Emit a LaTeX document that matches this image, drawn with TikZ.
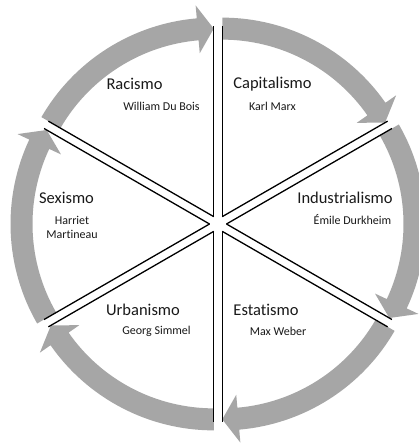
\documentclass[tikz,border=0pt]{standalone}
\usepackage{fontspec}
\setmainfont[Ligatures=NoCommon]{Carlito}
\usepackage{tikz}
\usetikzlibrary{positioning}

\definecolor{bandgray}{RGB}{166,166,166}

\begin{document}
\begin{tikzpicture}[
  x=1pt, y=1pt,
  title/.style={font=\fontsize{16.5}{19}\selectfont, text=black!90, inner sep=0pt},
  person/.style={font=\fontsize{12}{14}\selectfont, text=black!90,
                 inner sep=0pt, align=center},
  spoke/.style={line width=1.3pt},
  band/.style={fill=bandgray},
  pics/sector/.style args={#1/#2}{code={
    \fill[band] (#1:177) -- (#1:199)
      arc[start angle=#1, end angle=#2+4.9, radius=199]
      -- (#2+4.9:212) -- (#2:188) -- (#2+4.9:164) -- (#2+4.9:177)
      arc[start angle=#2+4.9, end angle=#1, radius=177] -- cycle;
    \draw[spoke] (0,0) -- (#1:191);
    \draw[spoke] (0,0) -- (#2:191);
  }}
]

% Page
\fill[white] (-218,-220) rectangle (201,224);
\useasboundingbox (-218,-220) rectangle (201,224);

% Sectors, each pushed out from the centre
\pic at (60:8.5)  {sector=90/30};
\pic at (120:8.5) {sector=150/90};
\pic at (180:8.5) {sector=210/150};
\pic at (240:8.5) {sector=270/210};
\pic at (300:8.5) {sector=330/270};
\pic at (0:8.5)   {sector=30/-30};

% Labels
\node[title] (racismo) at (-83.5,140) {Racismo};
\node[person] (dubois) at (-56.5,118) {William Du Bois};

\node[title] (capitalismo) at (54.5,140) {Capitalismo};
\node[person] (marx) at (54.5,118) {Karl Marx};

\node[title] (sexismo) at (-151.5,26) {Sexismo};
\node[person] (martineau) at (-146,-3) {Harriet\\Martineau};

\node[title] (industrialismo) at (127,26) {Industrialismo};
\node[person] (durkheim) at (134.5,4) {Émile Durkheim};

\node[title] (urbanismo) at (-75,-86) {Urbanismo};
\node[person] (simmel) at (-61.5,-107) {Georg Simmel};

\node[title] (estatismo) at (48,-86) {Estatismo};
\node[person] (weber) at (60,-107) {Max Weber};

\end{tikzpicture}
\end{document}
